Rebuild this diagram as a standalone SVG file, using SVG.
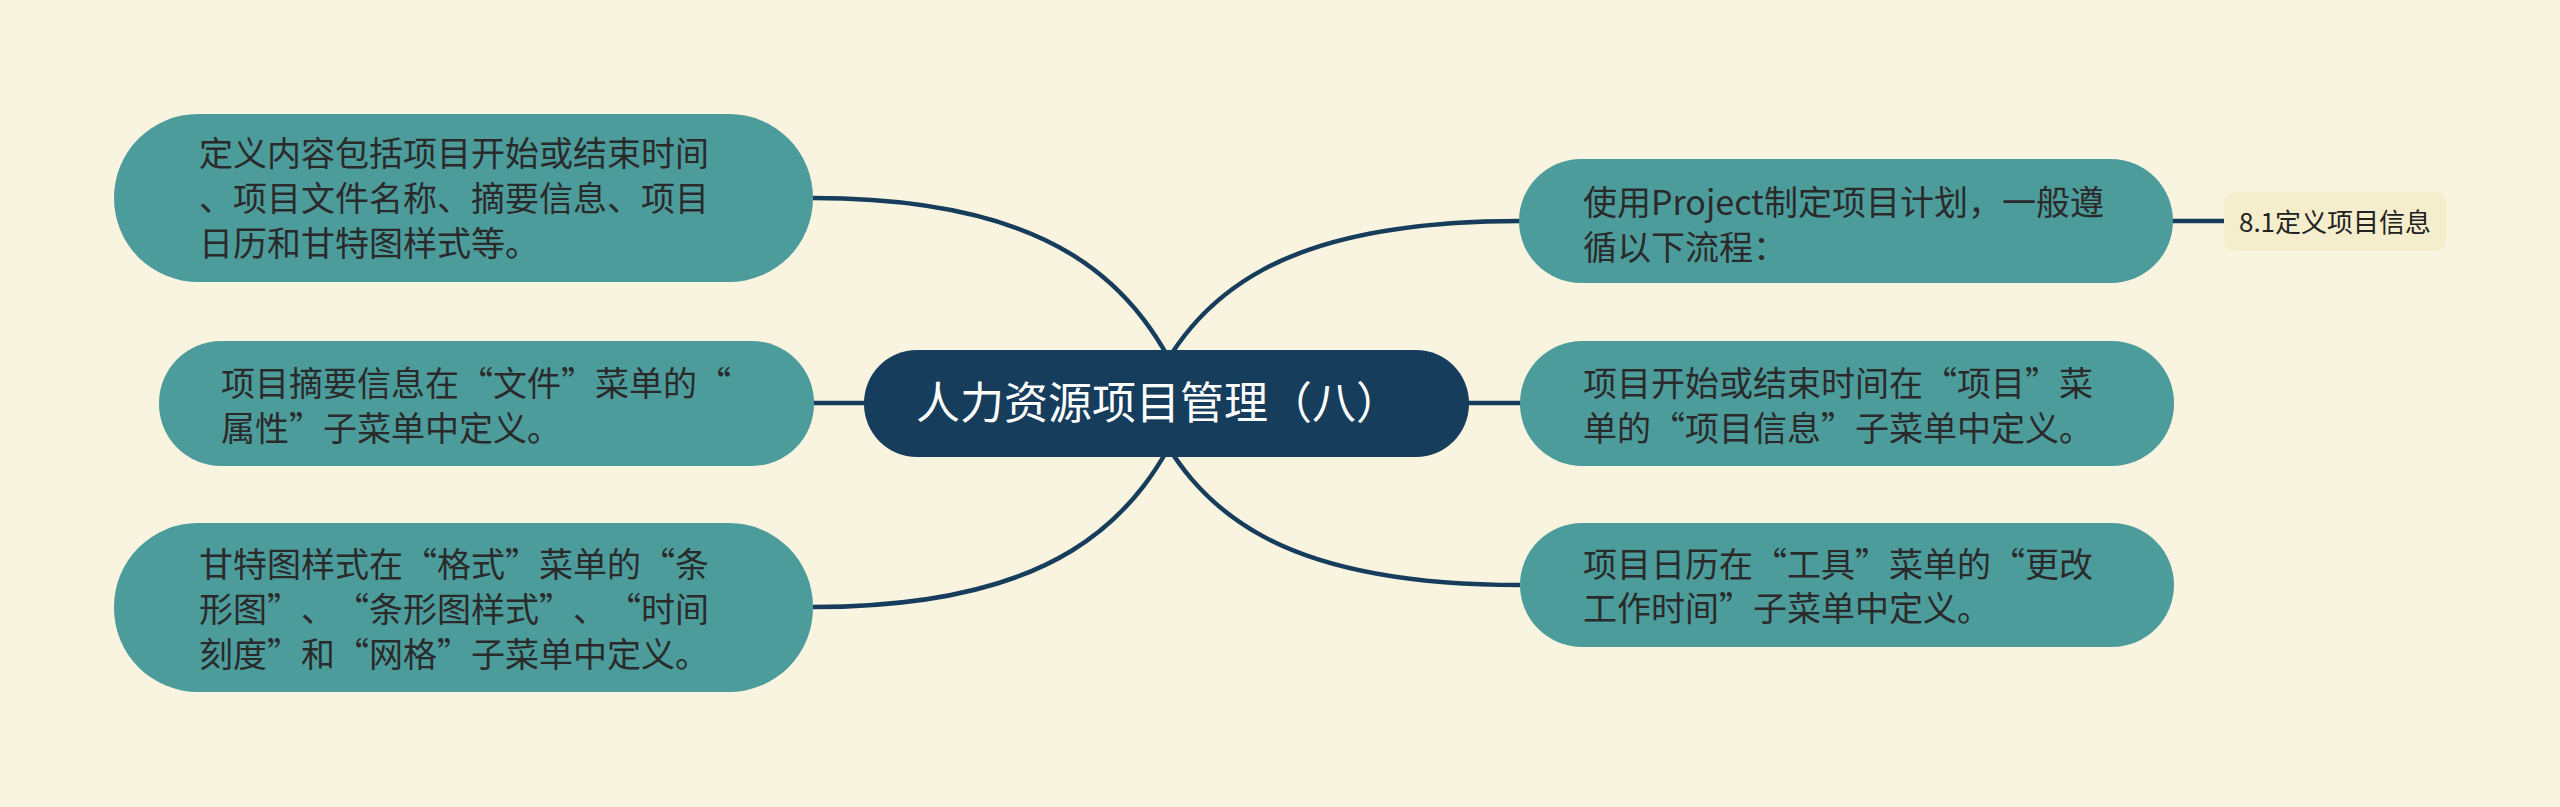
<svg xmlns="http://www.w3.org/2000/svg" width="2560" height="807" viewBox="0 0 2560 807">
<style>
.bg{fill:#f9f4df}
.tn{fill:#4d9c9c}
.tt{font-family:"Noto Sans CJK SC","Noto Sans",sans-serif;font-size:34px;fill:#2a2a2a;text-spacing-trim:space-all}
.cn{fill:#173d5c}
.ct{font-family:"Noto Sans CJK SC","Noto Sans",sans-serif;font-size:44px;fill:#ffffff}
.sn{fill:#f5eecd}
.st{font-family:"Noto Sans CJK SC","Noto Sans",sans-serif;font-size:26px;fill:#222222}
.ln{fill:none;stroke:#173d5c;stroke-width:4.5}
</style>
<rect class="bg" x="0" y="0" width="2560" height="807"/>
<g id="connectors">
<path class="ln" d="M813,198 C1050,198 1140,280 1190,403"/>
<path class="ln" d="M813,607 C1050,607 1140,525 1190,403"/>
<path class="ln" d="M1520,221 C1285,221 1195,290 1145,403"/>
<path class="ln" d="M1520,585 C1285,585 1195,516 1145,403"/>
<path class="ln" d="M813,403 L866,403"/>
<path class="ln" d="M1467,403 L1521,403"/>
<path class="ln" d="M2172,221 L2226,221"/>
</g>
<g id="center">
<rect class="cn" x="864" y="350" width="605" height="107" rx="53"/>
<text class="ct" x="916" y="419">人力资源项目管理（八）</text>
</g>
<g id="n1">
<rect class="tn" x="114" y="114" width="699" height="168" rx="84"/>
<text class="tt"><tspan x="199" y="166">定义内容包括项目开始或结束时间</tspan><tspan x="199" y="211">、项目文件名称、摘要信息、项目</tspan><tspan x="199" y="256">日历和甘特图样式等。</tspan></text>
</g>
<g id="n2">
<rect class="tn" x="159" y="341" width="655" height="125" rx="62"/>
<text class="tt"><tspan x="221" y="396">项目摘要信息在“文件”菜单的“</tspan><tspan x="221" y="441">属性”子菜单中定义。</tspan></text>
</g>
<g id="n3">
<rect class="tn" x="114" y="523" width="699" height="169" rx="84"/>
<text class="tt"><tspan x="199" y="577">甘特图样式在“格式”菜单的“条</tspan><tspan x="199 233 267 301 335 369 403 437 471 505 539 573 607 641 675" y="622">形图”、“条形图样式”、“时间</tspan><tspan x="199" y="667">刻度”和“网格”子菜单中定义。</tspan></text>
</g>
<g id="n4">
<rect class="tn" x="1519" y="159" width="654" height="124" rx="62"/>
<text class="tt"><tspan x="1583" y="215">使用Project制定项目计划，一般遵</tspan><tspan x="1583" y="260">循以下流程：</tspan></text>
</g>
<g id="n5">
<rect class="tn" x="1520" y="341" width="654" height="125" rx="62"/>
<text class="tt"><tspan x="1583" y="396">项目开始或结束时间在“项目”菜</tspan><tspan x="1583" y="441">单的“项目信息”子菜单中定义。</tspan></text>
</g>
<g id="n6">
<rect class="tn" x="1520" y="523" width="654" height="124" rx="62"/>
<text class="tt"><tspan x="1583" y="577">项目日历在“工具”菜单的“更改</tspan><tspan x="1583" y="621">工作时间”子菜单中定义。</tspan></text>
</g>
<g id="sub1">
<rect class="sn" x="2224" y="192" width="222" height="59" rx="10"/>
<text class="st" x="2335" y="232" text-anchor="middle">8.1定义项目信息</text>
</g>
</svg>
